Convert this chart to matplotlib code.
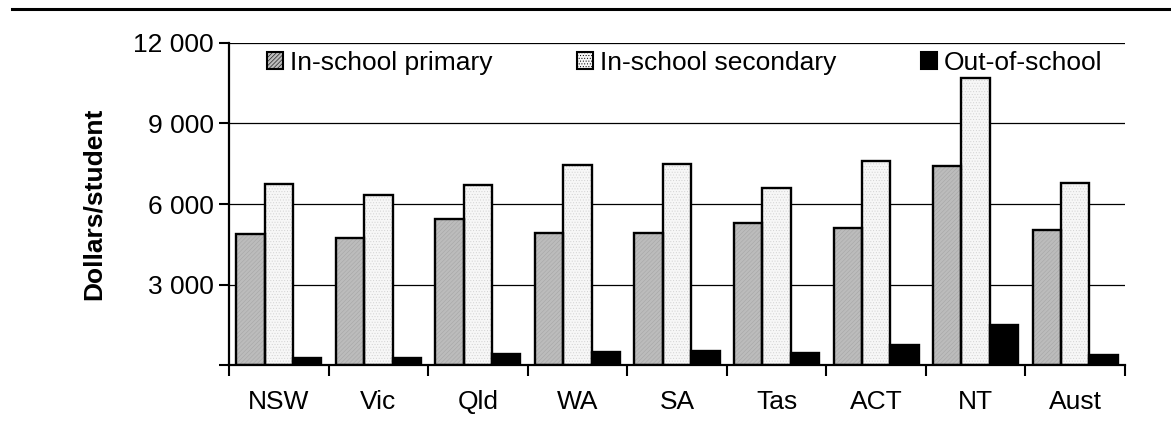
import matplotlib.pyplot as plt
import numpy as np
from matplotlib.lines import Line2D
from matplotlib.patches import Patch
from matplotlib.ticker import FuncFormatter, MultipleLocator

STATES = ["NSW", "Vic", "Qld", "WA", "SA", "Tas", "ACT", "NT", "Aust"]
PRIMARY = [4880, 4730, 5430, 4910, 4930, 5290, 5110, 7420, 5030]
SECONDARY = [6740, 6330, 6700, 7470, 7480, 6600, 7610, 10680, 6800]
OUT_OF_SCHOOL = [250, 270, 420, 480, 510, 450, 730, 1500, 370]
SERIES_LABELS = ["In-school primary", "In-school secondary", "Out-of-school"]

plt.rcParams["font.family"] = ["Liberation Sans", "DejaVu Sans"]
plt.rcParams["hatch.linewidth"] = 0.4
FS = 19

fig = plt.figure(figsize=(11.71, 4.23), dpi=100)
ax = fig.add_axes([229 / 1171, 1 - 365 / 423, (1125 - 229) / 1171, (365 - 43) / 423])

x = np.arange(len(STATES))
w = 0.285
styles = [
    dict(face="#bcbcbc", hatch="////////", hcol="#a6a6a6"),
    dict(face="#f7f7f7", hatch="......", hcol="#d2d2d2"),
    dict(face="black", hatch=None, hcol="black"),
]
for i, (vals, st) in enumerate(zip([PRIMARY, SECONDARY, OUT_OF_SCHOOL], styles)):
    pos = x + (i - 1) * w
    ax.bar(pos, vals, w, color=st["face"], hatch=st["hatch"], edgecolor=st["hcol"],
           linewidth=0, zorder=2)
    ax.bar(pos, vals, w, fill=False, edgecolor="black", linewidth=1.7, zorder=3)

ax.set_xlim(-0.5, len(STATES) - 0.5)
ax.set_ylim(0, 12000)
ax.yaxis.set_major_locator(MultipleLocator(3000))
ax.yaxis.set_major_formatter(FuncFormatter(
    lambda v, p: "" if v == 0 else f"{int(v):,}".replace(",", " ")))
ax.grid(axis="y", color="black", linewidth=0.9, zorder=0)
ax.set_axisbelow(True)

ax.set_xticks(x)
ax.set_xticklabels(STATES)
ax.set_xticks(np.arange(len(STATES) + 1) - 0.5, minor=True)
ax.tick_params(axis="x", which="major", length=0, pad=18, labelsize=FS)
ax.tick_params(axis="x", which="minor", length=8, width=1.5, direction="out")
ax.tick_params(axis="y", length=7, width=1.5, direction="out", labelsize=FS, pad=4)

for s in ["top", "right"]:
    ax.spines[s].set_visible(False)
for s in ["left", "bottom"]:
    ax.spines[s].set_linewidth(1.6)

ax.set_ylabel("Dollars/student", fontsize=FS, fontweight="bold", labelpad=20)

handles = [
    Patch(facecolor=styles[0]["face"], hatch=styles[0]["hatch"], edgecolor="black", linewidth=1.5),
    Patch(facecolor=styles[1]["face"], hatch=styles[1]["hatch"], edgecolor="black", linewidth=1.5),
    Patch(facecolor="black", edgecolor="black", linewidth=1.5),
]
fig.legend(handles, SERIES_LABELS, loc="center left", bbox_to_anchor=(267 / 1171, 1 - 63 / 423),
           ncol=3, frameon=False, fontsize=FS, borderpad=0, borderaxespad=0,
           handlelength=0.6, handleheight=0.6, handletextpad=0.27, columnspacing=3.2)

fig.add_artist(Line2D([12 / 1171, 1170 / 1171], [1 - 9 / 423, 1 - 9 / 423],
                      transform=fig.transFigure, color="black", linewidth=2.2))

fig.savefig("out.png", dpi=100)
